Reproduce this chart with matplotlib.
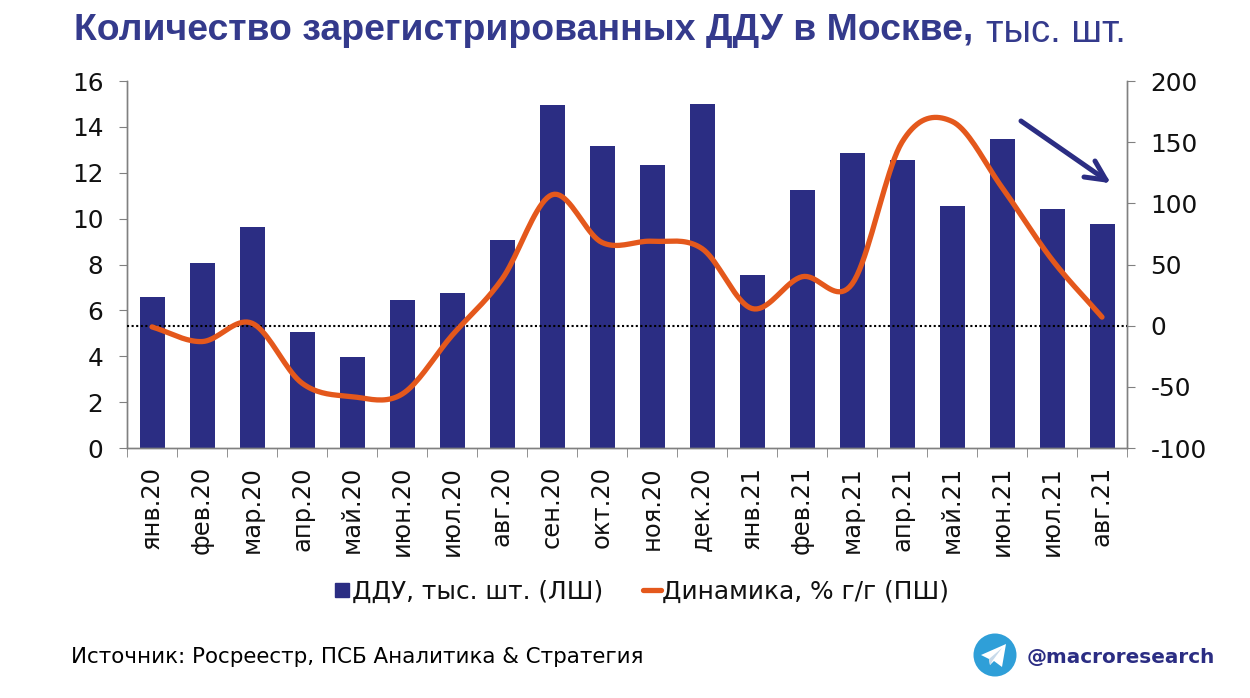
import matplotlib
matplotlib.use('Agg')
import matplotlib.pyplot as plt
from matplotlib.lines import Line2D
from matplotlib.patches import Circle, Polygon
import numpy as np

plt.rcParams['font.family'] = ['DejaVu Sans']
plt.rcParams['axes.unicode_minus'] = False

months = ['янв.20', 'фев.20', 'мар.20', 'апр.20', 'май.20', 'июн.20', 'июл.20', 'авг.20', 'сен.20', 'окт.20',
          'ноя.20', 'дек.20', 'янв.21', 'фев.21', 'мар.21', 'апр.21', 'май.21', 'июн.21', 'июл.21', 'авг.21']
ddu = [6.6, 8.05, 9.65, 5.05, 3.95, 6.45, 6.75, 9.05, 14.95, 13.15,
       12.35, 15.0, 7.55, 11.25, 12.85, 12.55, 10.55, 13.45, 10.4, 9.75]
dynamics = [-1, -13, 2, -47, -58, -56, -8, 38, 107, 68, 69, 63, 14, 40, 34, 150, 167, 113, 54, 7]

navy = '#2B2D83'
orange = '#E4581C'
grey = '#808080'
title_color = '#343A8C'
text_color = '#111111'

def smooth(y, per_seg=20):
    # Catmull-Rom, like the smoothed line in Excel
    y = np.asarray(y, dtype=float)
    p = np.concatenate([[2 * y[0] - y[1]], y, [2 * y[-1] - y[-2]]])
    xs, ys = [], []
    for i in range(1, len(p) - 2):
        t = np.linspace(0, 1, per_seg, endpoint=False)
        v = 0.5 * (2 * p[i] + (p[i + 1] - p[i - 1]) * t
                   + (2 * p[i - 1] - 5 * p[i] + 4 * p[i + 1] - p[i + 2]) * t ** 2
                   + (3 * p[i] - p[i - 1] - 3 * p[i + 1] + p[i + 2]) * t ** 3)
        xs.append(i - 1 + t)
        ys.append(v)
    xs.append([len(y) - 1])
    ys.append([y[-1]])
    return np.concatenate(xs), np.concatenate(ys)

W, H = 1250, 698
fig = plt.figure(figsize=(W / 100, H / 100), dpi=100, facecolor='white')
ax = fig.add_axes([127 / W, 1 - 448 / H, (1127 - 127) / W, (448 - 81) / H])
x = np.arange(len(months))

ax.bar(x, ddu, width=0.5, color=navy, zorder=2)
ax.set_xlim(-0.5, len(months) - 0.5)
ax.set_ylim(0, 16)
ax.set_yticks(range(0, 17, 2))
ax.set_xticks(x)
ax.set_xticklabels(months, rotation=90, fontsize=17.4, color=text_color)
ax.tick_params(axis='y', labelsize=17.8, length=6, color=grey, labelcolor=text_color, pad=11, direction='out')
ax.tick_params(axis='x', length=0, pad=13)
# tick marks between the categories
ax.set_xticks(np.arange(-0.5, len(months)), minor=True)
ax.tick_params(axis='x', which='minor', length=6.5, color=grey)

ax2 = ax.twinx()
ax2.set_ylim(-100, 200)
ax2.set_yticks(range(-100, 201, 50))
ax2.tick_params(axis='y', labelsize=17.8, length=6, color=grey, labelcolor=text_color, pad=11)
ax2.axhline(0, color='black', linestyle=(0, (1, 1.2)), linewidth=1.5, zorder=3)
sx, sy = smooth(dynamics)
ax2.plot(sx, sy, color=orange, linewidth=3.8, zorder=4, solid_capstyle='round')

for a in (ax, ax2):
    a.spines['top'].set_visible(False)
    for s in ('left', 'right', 'bottom'):
        a.spines[s].set_color(grey)
        a.spines[s].set_linewidth(1)

# arrow, open head, in pixel fractions of the figure
tip = (1106, 180)
for start in [(1021, 121), (1084, 177), (1095, 161)]:
    fig.add_artist(Line2D([start[0] / W, tip[0] / W], [1 - start[1] / H, 1 - tip[1] / H], color=navy,
                          linewidth=3.6, solid_capstyle='round'))

fig.text(74 / W, 1 - 31 / H, 'Количество зарегистрированных ДДУ в Москве,', fontsize=26.95, fontweight='bold',
         family='Liberation Sans', color=title_color, va='center', ha='left')
fig.text(986 / W, 1 - 32 / H, 'тыс. шт.', fontsize=27.5, family='Liberation Sans', color=title_color,
         va='center', ha='left')

handles = [Line2D([], [], linestyle='none', marker='s', markersize=9.5, color=navy),
           Line2D([], [], color=orange, linewidth=3.8, solid_capstyle='round')]
fig.legend(handles, ['ДДУ, тыс. шт. (ЛШ)', 'Динамика, % г/г (ПШ)'], loc='center', ncol=2,
           bbox_to_anchor=(641 / W, 1 - 592 / H), frameon=False, prop={'size': 17.9},
           labelcolor=text_color, handlelength=0.72, columnspacing=1.6, handletextpad=0.04)

fig.text(71 / W, 1 - 657 / H, 'Источник: Росреестр, ПСБ Аналитика & Стратегия', fontsize=15.4,
         color='black', va='center', ha='left')

# telegram badge
badge = fig.add_axes([972 / W, 1 - 678 / H, 46 / W, 46 / H])
badge.set_xlim(0, 46)
badge.set_ylim(46, 0)
badge.axis('off')
badge.add_patch(Circle((23, 23), 21.5, facecolor='#2F9FD8', edgecolor='none'))
badge.add_patch(Polygon([[9, 23], [34, 12], [30, 35], [22, 29], [18, 33], [17, 27]], closed=True,
                        facecolor='white', edgecolor='none'))
badge.add_patch(Polygon([[17, 27], [30, 16], [21, 28], [18, 33]], closed=True, facecolor='#C8DAEA', edgecolor='none'))
fig.text(1027 / W, 1 - 657 / H, '@macroresearch', fontsize=14.4, fontweight='bold', color=navy,
         va='center', ha='left')

fig.savefig('out.png', dpi=100)
